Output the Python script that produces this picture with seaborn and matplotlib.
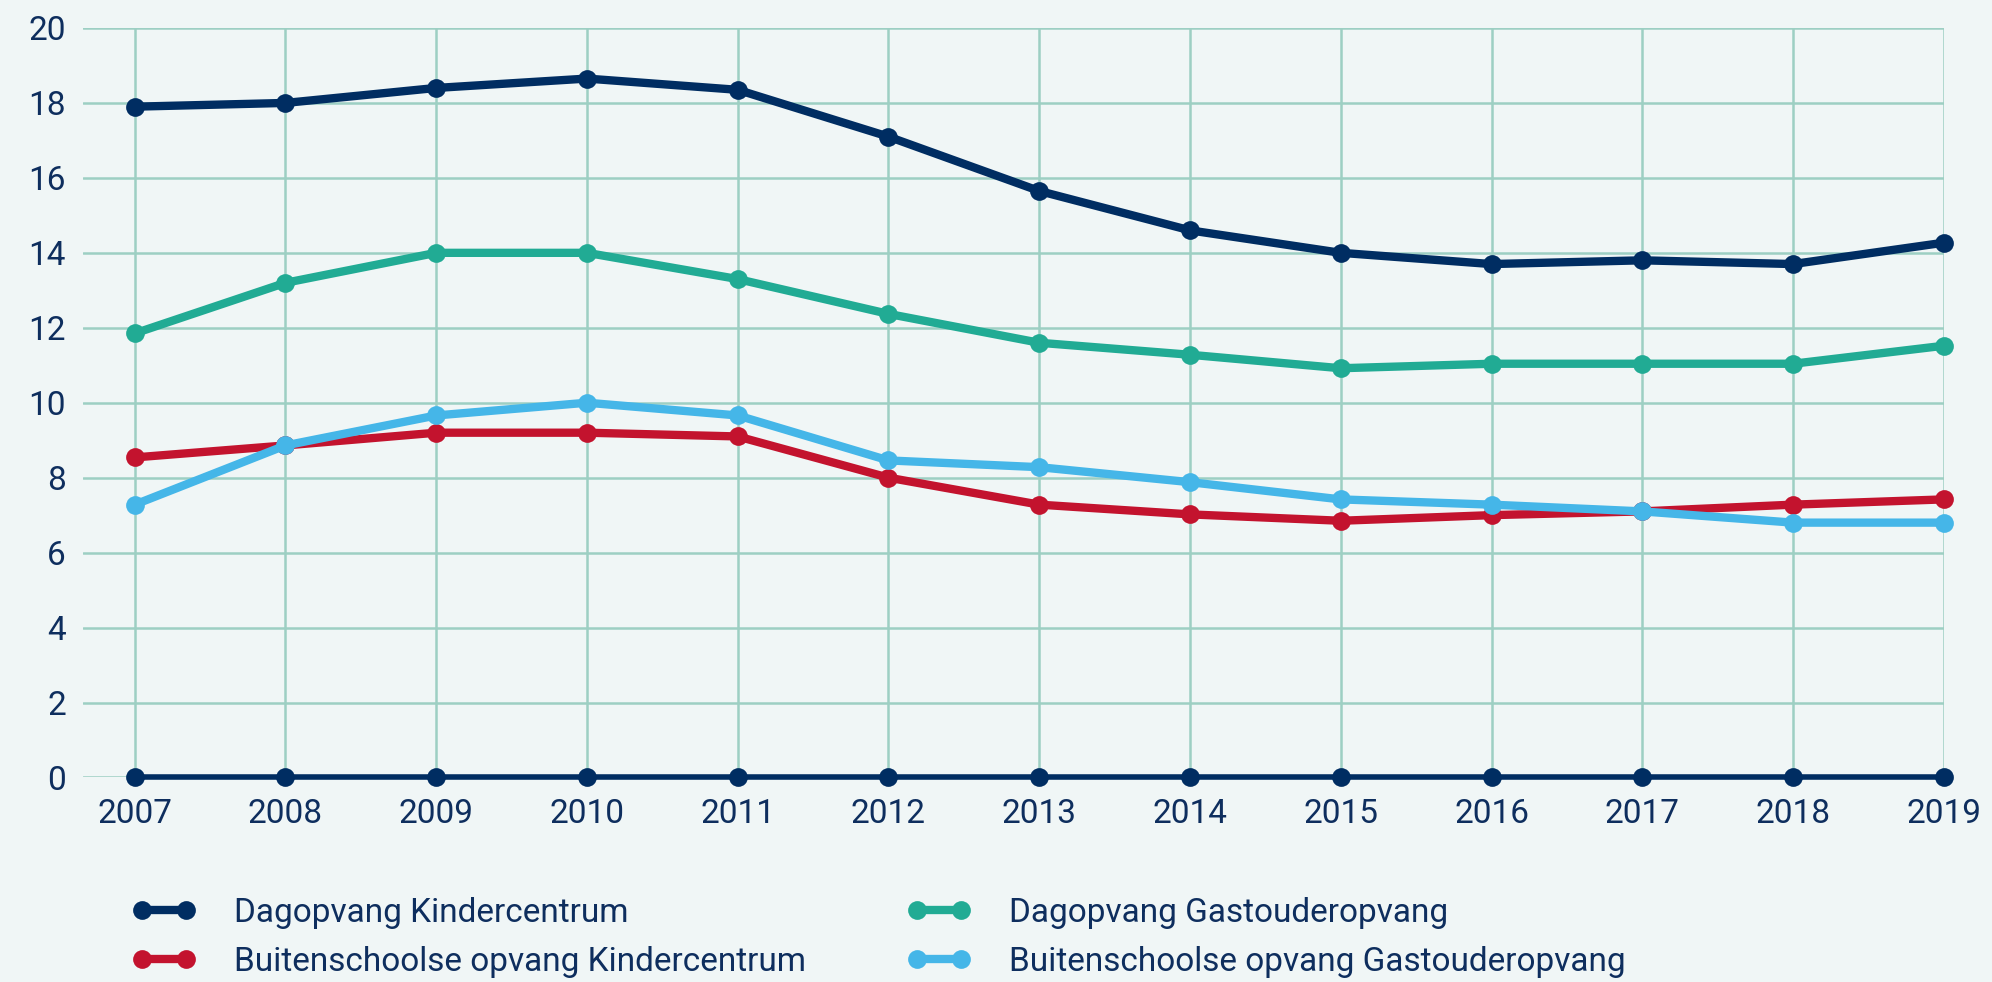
import numpy as np
import pandas as pd
import seaborn as sns
import matplotlib.pyplot as plt
from matplotlib.lines import Line2D

# ---- data ----
years = [2007, 2008, 2009, 2010, 2011, 2012, 2013, 2014, 2015, 2016, 2017, 2018, 2019]
dagopvang_kc = [17.9, 18.0, 18.4, 18.65, 18.35, 17.1, 15.65, 14.6, 14.0, 13.7, 13.8, 13.7, 14.27]
dagopvang_go = [11.85, 13.2, 14.0, 14.0, 13.3, 12.37, 11.6, 11.28, 10.92, 11.04, 11.04, 11.04, 11.52]
bso_kc = [8.54, 8.86, 9.2, 9.2, 9.1, 8.0, 7.28, 7.02, 6.85, 7.0, 7.1, 7.28, 7.42]
bso_go = [7.28, 8.86, 9.66, 10.0, 9.66, 8.46, 8.28, 7.88, 7.42, 7.28, 7.1, 6.8, 6.8]
baseline = [0] * len(years)

labels = ['Dagopvang Kindercentrum', 'Buitenschoolse opvang Kindercentrum',
          'Dagopvang Gastouderopvang', 'Buitenschoolse opvang Gastouderopvang']
colors = {'Dagopvang Kindercentrum': '#002d62',
          'Buitenschoolse opvang Kindercentrum': '#c3132e',
          'Dagopvang Gastouderopvang': '#21ab94',
          'Buitenschoolse opvang Gastouderopvang': '#45b6e8'}

df = pd.DataFrame({
    'jaar': years * 4,
    'waarde': dagopvang_kc + bso_kc + dagopvang_go + bso_go,
    'soort': [labels[0]] * 13 + [labels[1]] * 13 + [labels[2]] * 13 + [labels[3]] * 13,
})
df_zero = pd.DataFrame({'jaar': years, 'waarde': baseline})

bg = '#f0f6f6'
grid_col = '#9dcfc3'
text_col = '#0e2e5e'
LW = 6
MS = 13.5

sns.set_theme(style='white')
plt.rcParams['font.family'] = ['Roboto', 'DejaVu Sans']

fig = plt.figure(figsize=(19.92, 9.82), dpi=100, facecolor=bg)
ax = fig.add_axes([0.0415, 0.2083, 0.9343, 0.7632], facecolor=bg)

# zero line with dots
sns.lineplot(data=df_zero, x='jaar', y='waarde', color='#002d62', lw=4,
             marker='o', markersize=MS, markeredgewidth=0, legend=False, ax=ax,
             clip_on=False, zorder=3)

# the four series
plot_order = [labels[1], labels[3], labels[2], labels[0]]
for lab in plot_order:
    sub = df[df['soort'] == lab]
    sns.lineplot(data=sub, x='jaar', y='waarde', color=colors[lab], lw=LW,
                 marker='o', markersize=MS, markeredgewidth=0, legend=False,
                 ax=ax, clip_on=False, zorder=4)

ax.set_xlim(2007 - 0.345, 2019)
ax.set_ylim(0, 20)
ax.set_xticks(years)
ax.set_yticks(range(0, 21, 2))
ax.grid(True, color=grid_col, lw=1.8)
ax.set_axisbelow(True)
for s in ax.spines.values():
    s.set_visible(False)
ax.tick_params(axis='both', length=0, labelsize=24, colors=text_col)
ax.tick_params(axis='x', pad=15)
ax.tick_params(axis='y', pad=12)
ax.set_xlabel('')
ax.set_ylabel('')

# legend: two columns placed separately
def handle(lab):
    return Line2D([], [], color=colors[lab], lw=LW, marker='o', markersize=MS,
                  markeredgewidth=0)

leg_kw = dict(frameon=False, numpoints=2, fontsize=24, handlelength=1.9,
              handletextpad=1.15, labelspacing=0.5, labelcolor=text_col,
              loc='upper left', borderpad=0, borderaxespad=0)
leg1 = fig.legend([handle(labels[0]), handle(labels[1])], labels[:2],
                  bbox_to_anchor=(0.0665, 0.0866), **leg_kw)
leg2 = fig.legend([handle(labels[2]), handle(labels[3])], labels[2:],
                  bbox_to_anchor=(0.4555, 0.0866), **leg_kw)

fig.savefig('out.png', dpi=100, facecolor=bg)
